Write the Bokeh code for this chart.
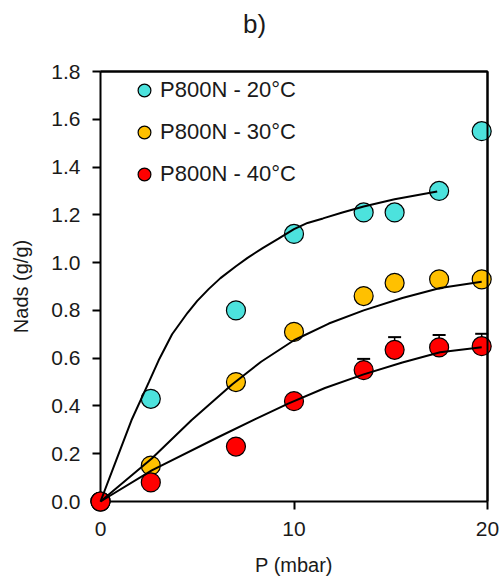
from bokeh.plotting import figure
from bokeh.models import (Range1d, FixedTicker, NumeralTickFormatter, Legend,
                          LegendItem, Whisker, TeeHead, ColumnDataSource, Label,
                          LinearAxis)
from bokeh.embed import file_html
from bokeh.resources import INLINE

# ---- data ----
pressure = [0, 2.6, 7.0, 10.0, 13.6, 15.2, 17.5, 19.7]
nads_20 = [0, 0.43, 0.80, 1.12, 1.21, 1.21, 1.30, 1.55]
nads_30 = [0, 0.15, 0.50, 0.71, 0.86, 0.915, 0.93, 0.93]
nads_40 = [0, 0.08, 0.23, 0.42, 0.55, 0.635, 0.645, 0.65]
err_40 = [0, 0, 0, 0, 0.047, 0.053, 0.052, 0.052]

fit_20_p = [0, 0.8, 1.6, 2.5, 3.0, 3.7, 4.5, 5.0, 5.6, 6.2, 7.0, 7.6, 8.4, 9.2, 10.0, 10.7, 11.5, 12.5, 13.6, 15.2, 17.4]
fit_20_n = [0, 0.17, 0.34, 0.50, 0.59, 0.70, 0.79, 0.84, 0.89, 0.935, 0.985, 1.02, 1.062, 1.10, 1.14, 1.166, 1.185, 1.21, 1.235, 1.265, 1.298]
fit_30_p = [0, 2.65, 4.7, 6.8, 8.3, 10.0, 11.8, 13.6, 15.6, 17.55, 19.7]
fit_30_n = [0, 0.18, 0.34, 0.49, 0.585, 0.675, 0.745, 0.80, 0.852, 0.894, 0.92]
fit_40_p = [0, 2.65, 6.1, 8.0, 9.7, 11.6, 13.6, 15.6, 17.55, 19.7]
fit_40_n = [0, 0.13, 0.27, 0.345, 0.41, 0.475, 0.532, 0.582, 0.625, 0.646]

labels = ["P800N - 20°C", "P800N - 30°C", "P800N - 40°C"]
colors = ["#4CE2DD", "#FFC000", "#FF0000"]
x_ticks = [0, 10, 20]
y_ticks = [0, 0.2, 0.4, 0.6, 0.8, 1.0, 1.2, 1.4, 1.6, 1.8]
x_lim = (0, 20)
y_lim = (0, 1.8)

FONT = "Liberation Sans"
TXT = "#1a1a1a"

W, H = 501, 580
# pixel position of the axis box inside the page
BOX_L, BOX_R, BOX_T, BOX_B = 100, 487, 71, 501
sx = (BOX_R - BOX_L) / (x_lim[1] - x_lim[0])
sy = (BOX_B - BOX_T) / (y_lim[1] - y_lim[0])

# the frame covers the whole page; axes are pinned at the box edges so that
# nothing (markers at the box edge, labels) gets clipped
p = figure(width=W, height=H, output_backend="svg", toolbar_location=None,
           x_range=Range1d(x_lim[0] - BOX_L / sx, x_lim[1] + (W - BOX_R) / sx),
           y_range=Range1d(y_lim[0] - (H - BOX_B) / sy, y_lim[1] + BOX_T / sy),
           x_axis_location=None, y_axis_location=None,
           min_border_left=0, min_border_right=0, min_border_top=0,
           min_border_bottom=0)
p.grid.visible = False
p.outline_line_color = None
p.background_fill_color = "white"
p.border_fill_color = "white"

xax = LinearAxis(fixed_location=y_lim[0], bounds=x_lim, ticker=FixedTicker(ticks=x_ticks),
                 axis_label="P (mbar)")
yax = LinearAxis(fixed_location=x_lim[0], bounds=y_lim, ticker=FixedTicker(ticks=y_ticks),
                 formatter=NumeralTickFormatter(format="0.0"), axis_label="Nads (g/g)")
for ax in (xax, yax):
    ax.axis_line_width = 2
    ax.axis_line_color = "black"
    ax.major_tick_line_width = 2
    ax.major_tick_in = 0
    ax.major_tick_out = 8
    ax.minor_tick_line_color = None
    ax.major_label_text_font = FONT
    ax.major_label_text_font_size = "21px"
    ax.major_label_text_color = TXT
    ax.axis_label_text_font = FONT
    ax.axis_label_text_font_size = "20px"
    ax.axis_label_text_font_style = "normal"
    ax.axis_label_text_color = TXT
xax.major_label_standoff = 12
xax.axis_label_standoff = 15
yax.major_label_standoff = 12
yax.axis_label_standoff = 16
p.add_layout(xax, "below")
p.add_layout(yax, "left")

# top and right edges of the axis box, drawn as plain whisker lines
top_src = ColumnDataSource(dict(base=[y_lim[1]], lo=[x_lim[0]], hi=[x_lim[1]]))
right_src = ColumnDataSource(dict(base=[x_lim[1]], lo=[y_lim[0]], hi=[y_lim[1]]))
p.add_layout(Whisker(source=top_src, base="base", lower="lo", upper="hi",
                     dimension="width", lower_head=None, upper_head=None,
                     line_color="black", line_width=2, level="overlay"))
p.add_layout(Whisker(source=right_src, base="base", lower="lo", upper="hi",
                     dimension="height", lower_head=None, upper_head=None,
                     line_color="black", line_width=2, level="overlay"))
p.line([x_lim[0], x_lim[1], x_lim[1]], [y_lim[1], y_lim[1], y_lim[0]],
       line_color="black", line_width=2, level="overlay")

# panel title
p.add_layout(Label(x=254, y=H - 23, x_units="screen", y_units="screen", text="b)",
                   text_font=FONT, text_font_size="26px", text_color=TXT,
                   text_align="center", text_baseline="middle"))

# error bars (upper only)
idx = [i for i, e in enumerate(err_40) if e > 0]
err_src = ColumnDataSource(dict(
    x=[pressure[i] for i in idx],
    lo=[nads_40[i] for i in idx],
    hi=[nads_40[i] + err_40[i] for i in idx]))
p.add_layout(Whisker(source=err_src, base="x", lower="lo", upper="hi",
                     line_color="black", line_width=1.5, lower_head=None,
                     upper_head=TeeHead(size=13, line_color="black", line_width=2)))

rends = []
for ys, c in zip([nads_20, nads_30, nads_40], colors):
    r = p.scatter(pressure, ys, size=19, fill_color=c, line_color="black",
                  line_width=1.2, level="overlay")
    rends.append(r)

for fx, fy in [(fit_20_p, fit_20_n), (fit_30_p, fit_30_n), (fit_40_p, fit_40_n)]:
    p.line(fx, fy, line_color="black", line_width=2, level="overlay")

legend = Legend(items=[LegendItem(label=l, renderers=[r]) for l, r in zip(labels, rends)],
                location=(128, H - 190), glyph_width=32, glyph_height=32, spacing=10,
                label_standoff=-8, padding=0, margin=0,
                label_text_font=FONT, label_text_font_size="22px",
                label_text_color=TXT,
                border_line_alpha=0, background_fill_alpha=0)
p.add_layout(legend)

open("out.html", "w").write(file_html(p, INLINE))
